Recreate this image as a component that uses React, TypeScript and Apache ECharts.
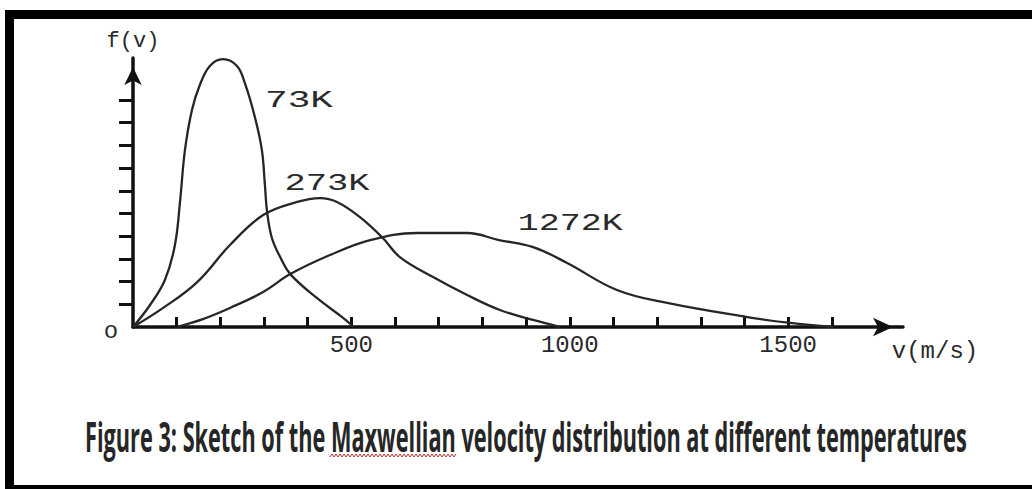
import React, { useEffect, useRef } from "react";
import * as echarts from "echarts";

// 73 K curve
const v73 = [0, 39, 73, 96, 108, 119, 135, 153, 176, 206, 238, 256, 279, 295, 302, 307, 318, 337, 360, 421, 481, 505];
const f73 = [0, 0.97, 2.07, 3.61, 5.59, 7.8, 9.56, 10.66, 11.5, 11.8, 11.5, 10.75, 9.25, 7.8, 6.26, 5.07, 3.92, 3.08, 2.33, 1.28, 0.4, 0];
// 273 K curve
const v273 = [0, 69, 147, 222, 298, 376, 428, 467, 519, 572, 611, 687, 765, 840, 916, 978];
const f273 = [0, 0.84, 1.98, 3.61, 4.93, 5.51, 5.68, 5.51, 4.85, 3.92, 3.08, 2.2, 1.41, 0.75, 0.31, 0];
// 1272 K curve
const v1272 = [100, 160, 222, 298, 360, 451, 543, 650, 765, 838, 916, 994, 1108, 1223, 1406, 1504, 1603];
const f1272 = [0, 0.35, 0.84, 1.54, 2.33, 3.17, 3.83, 4.14, 4.14, 3.83, 3.52, 2.82, 1.63, 1.06, 0.44, 0.18, 0];

const seriesNames = ["73K", "273K", "1272K"];
const xTicks = [100, 200, 300, 400, 500, 600, 700, 800, 900, 1000, 1100, 1200, 1300, 1400, 1500, 1600];
const xTickLabels = [500, 1000, 1500];
const yTicks = [1, 2, 3, 4, 5, 6, 7, 8, 9, 10];
const caption = "Figure 3: Sketch of the Maxwellian velocity distribution at different temperatures";

const zip = (a: number[], b: number[]) => a.map((x, i) => [x, b[i]]);

const MONO = '"Liberation Mono", monospace';

export default function App() {
  const ref = useRef<HTMLDivElement>(null);
  useEffect(() => {
    document.documentElement.style.overflow = "hidden";
    document.body.style.overflow = "hidden";
    document.body.style.background = "#ffffff";
    if (!ref.current) return;
    const chart = echarts.init(ref.current, null, { renderer: "svg" });
    const lineStyle = { color: "#262626", width: 2.3 };
    const mk = (name: string, v: number[], f: number[]) => ({
      name,
      type: "line",
      data: zip(v, f),
      smooth: 0.4,
      showSymbol: false,
      clip: false,
      lineStyle,
      itemStyle: { color: "#262626" },
    });
    const option: any = {
      animation: false,
      grid: { left: 133, top: 58, width: 770, height: 269, outerBoundsMode: "none" },
      xAxis: {
        type: "value",
        min: 0,
        max: 1763,
        name: "v(m/s)",
        nameLocation: "end",
        nameGap: 32,
        nameTextStyle: {
          fontFamily: MONO,
          fontSize: 24,
          color: "#2a2a2a",
          align: "center",
          verticalAlign: "top",
          padding: [12, 0, 0, 0],
        },
        axisLine: {
          show: true,
          symbol: ["none", "arrow"],
          symbolSize: [14, 20],
          symbolOffset: [0, -10],
          lineStyle: { color: "#111", width: 3.5 },
        },
        axisTick: {
          show: true,
          inside: true,
          length: 10,
          customValues: xTicks,
          lineStyle: { color: "#111", width: 3 },
        },
        axisLabel: {
          show: true,
          customValues: xTickLabels,
          formatter: (v: number) => String(v),
          fontFamily: MONO,
          fontSize: 24,
          color: "#2a2a2a",
          margin: 6,
        },
        splitLine: { show: false },
      },
      yAxis: {
        type: "value",
        min: 0,
        max: 11.85,
        name: "f(v)",
        nameLocation: "end",
        nameGap: 6,
        nameTextStyle: { fontFamily: MONO, fontSize: 22, color: "#2a2a2a" },
        axisLine: {
          show: true,
          symbol: ["none", "arrow"],
          symbolSize: [13, 18],
          symbolOffset: [0, -9],
          lineStyle: { color: "#111", width: 3.5 },
        },
        axisTick: {
          show: true,
          inside: false,
          length: 14,
          customValues: yTicks,
          lineStyle: { color: "#111", width: 3 },
        },
        axisLabel: { show: false },
        splitLine: { show: false },
      },
      series: [mk(seriesNames[0], v73, f73), mk(seriesNames[1], v273, f273), mk(seriesNames[2], v1272, f1272)],
    };
    chart.setOption(option);

    const ctx = document.createElement("canvas").getContext("2d")!;
    const measure = (t: string, font: string) => {
      ctx.font = font;
      return ctx.measureText(t).width || 1;
    };

    // curve labels anchored in data coordinates
    const labelAnchors: [string, number, number, number][] = [
      [seriesNames[0], 380, 9.96, 68],
      [seriesNames[1], 444, 6.3, 85],
      [seriesNames[2], 1001, 4.54, 105],
    ];
    const labelFont = `24px ${MONO}`;
    const labels = labelAnchors.map(([t, v, f, w]) => {
      const p = chart.convertToPixel({ gridIndex: 0 }, [v, f]) as number[];
      return {
        type: "text",
        x: p[0],
        y: p[1],
        scaleX: w / measure(t, labelFont),
        z: 10,
        style: {
          text: t,
          fontFamily: MONO,
          fontSize: 24,
          fill: "#2a2a2a",
          align: "center",
          verticalAlign: "middle",
        },
      };
    });

    const capFont = `bold 42px "Open Sans"`;
    const capScale = 882 / measure(caption, capFont);

    const squiggle: number[][] = [];
    for (let x = 330, i = 0; x <= 457; x += 2, i++) squiggle.push([x, i % 2 ? 454 : 457]);

    chart.setOption({
      graphic: [
        ...labels,
        {
          type: "text",
          x: 111,
          y: 331,
          z: 10,
          style: { text: "o", fontFamily: MONO, fontSize: 24, fill: "#2a2a2a", align: "center", verticalAlign: "middle" },
        },
        {
          type: "text",
          x: 85,
          y: 436,
          scaleX: capScale,
          z: 10,
          style: {
            text: caption,
            fontFamily: '"Open Sans", sans-serif',
            fontWeight: "bold",
            fontSize: 42,
            fill: "#262626",
            align: "left",
            verticalAlign: "middle",
          },
        },
        {
          type: "polyline",
          z: 10,
          shape: { points: squiggle },
          style: { stroke: "#c03030", lineWidth: 1, fill: null },
        },
      ],
    });

    return () => chart.dispose();
  }, []);
  const bar = (left: number, top: number, width: number, height: number): React.CSSProperties => ({
    position: "absolute",
    left,
    top,
    width,
    height,
    background: "#000",
  });
  return (
    <div style={{ position: "absolute", left: 0, top: 0, width: 1032, height: 489, background: "#fff", overflow: "hidden" }}>
      <div style={bar(5, 10, 9, 479)} />
      <div style={bar(5, 10, 1027, 9)} />
      <div style={bar(5, 485, 1027, 4)} />
      <div ref={ref} style={{ position: "absolute", left: 0, top: 0, width: 1032, height: 489 }} />
    </div>
  );
}
